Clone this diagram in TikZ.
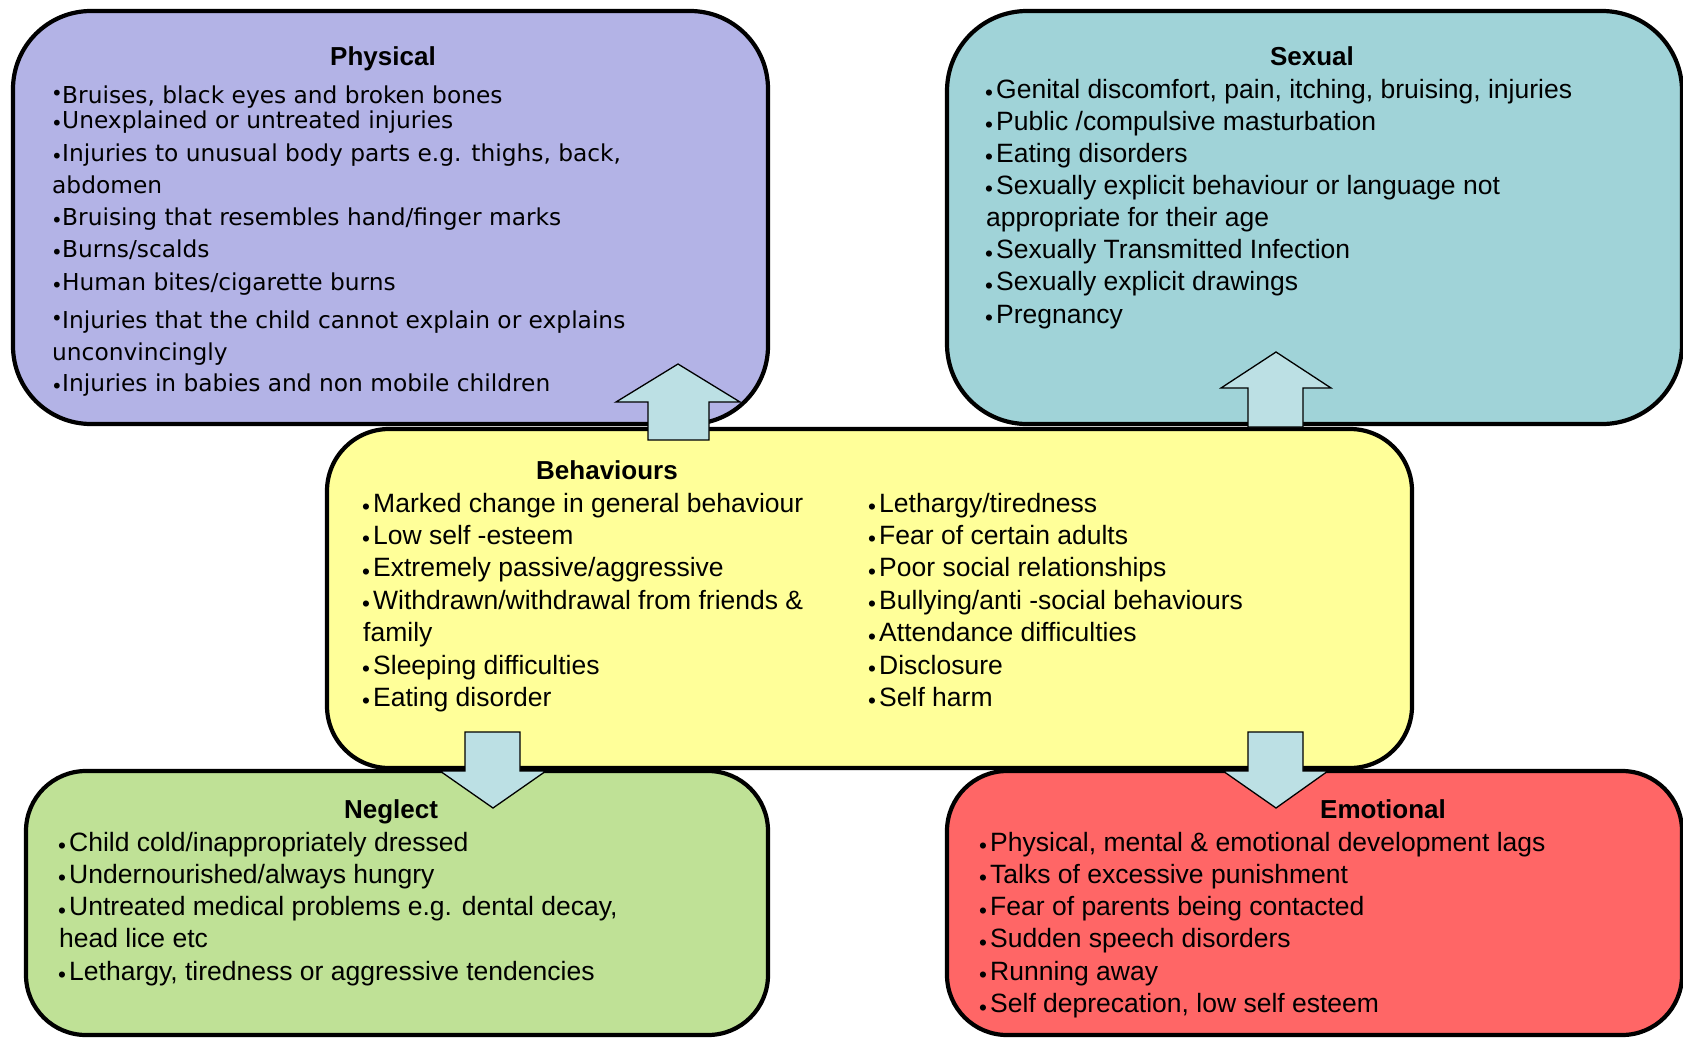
\documentclass[tikz,border=0pt]{standalone}
\usepackage{fontspec}
\usepackage{graphicx}
\usepackage{xcolor}
\setmainfont{Liberation Sans}
\newfontfamily\verdanafont{DejaVu Sans}

\definecolor{physfill}{HTML}{B3B3E6}
\definecolor{sexfill}{HTML}{A0D3D8}
\definecolor{behfill}{HTML}{FFFF99}
\definecolor{negfill}{HTML}{BFE196}
\definecolor{emofill}{HTML}{FF6666}
\definecolor{arrowfill}{HTML}{BCE0E4}

\newcommand{\bul}{\makebox[10pt][l]{\hspace{-1pt}\raisebox{-2.5pt}{\scalebox{0.85}{\textbullet}}}}
\newcommand{\bulhi}{\makebox[10pt][l]{\hspace{-1pt}\raisebox{3pt}{\scalebox{0.85}{\textbullet}}}}

\begin{document}
\begin{tikzpicture}[x=1pt,y=-1pt,
    catbox/.style={draw,line width=4.2pt,inner sep=0pt,rounded corners=#1},
    head/.style={anchor=base,inner sep=0pt,font=\fontsize{26}{30}\selectfont\bfseries},
    item/.style={anchor=base west,inner sep=0pt,font=\fontsize{26.5}{32}\selectfont},
    physitem/.style={anchor=base west,inner sep=0pt,font=\verdanafont\fontsize{23.3}{28}\selectfont},
    blockarrow/.style={draw,fill=arrowfill,line width=1.3pt,line join=miter}]
    \useasboundingbox (0,0) rectangle (1683,1037);

    % boxes
    \node (phys) at (390.5,217.5) [catbox=78pt,fill=physfill,minimum width=755pt,minimum height=413pt] {};
    \node (sex) at (1314.5,217.5) [catbox=80pt,fill=sexfill,minimum width=735pt,minimum height=413pt] {};
    \node (beh) at (869.5,598.5) [catbox=62pt,fill=behfill,minimum width=1085pt,minimum height=339pt] {};

    % arrows up
    \draw[blockarrow] (648,440) -- (648,402) -- (616,402) -- (678,364) -- (740,402) -- (709,402) -- (709,440) -- cycle;
    \draw[blockarrow] (1248,427) -- (1248,388) -- (1221,388) -- (1276,352) -- (1331,388) -- (1303,388) -- (1303,427) -- cycle;

    \node (neg) at (397,903) [catbox=60pt,fill=negfill,minimum width=742pt,minimum height=264pt] {};
    \node (emo) at (1314.5,903) [catbox=60pt,fill=emofill,minimum width=735pt,minimum height=264pt] {};

    % arrows down
    \draw[blockarrow] (465,732) -- (465,771) -- (440,771) -- (493,808) -- (546,771) -- (520,771) -- (520,732) -- cycle;
    \draw[blockarrow] (1248,732) -- (1248,771) -- (1223,771) -- (1276,808) -- (1328,771) -- (1303,771) -- (1303,732) -- cycle;

    % headings
    \node (physhead) at (383,65.5) [head] {Physical};
    \node (sexhead) at (1312,65.5) [head] {Sexual};
    \node (behhead) at (607,479.5) [head] {Behaviours};
    \node (neghead) at (391,818) [head] {Neglect};
    \node (emohead) at (1383,818) [head] {Emotional};

    % physical
    \foreach \y/\t [count=\i] in {103/{\bulhi Bruises, black eyes and broken bones},
        128/{\bul Unexplained or untreated injuries},
        161/{\bul Injuries to unusual body parts e.g. thighs, back,},
        193/{abdomen},
        225/{\bul Bruising that resembles hand/finger marks},
        257/{\bul Burns/scalds},
        290/{\bul Human bites/cigarette burns},
        328/{\bulhi Injuries that the child cannot explain or explains},
        360/{unconvincingly},
        391/{\bul Injuries in babies and non mobile children}}
        \node (phys\i) at (52,\y) [physitem] {\t};

    % sexual
    \foreach \t [count=\i] in {{\bul Genital discomfort, pain, itching, bruising, injuries},
        {\bul Public /compulsive masturbation},
        {\bul Eating disorders},
        {\bul Sexually explicit behaviour or language not},
        {appropriate for their age},
        {\bul Sexually Transmitted Infection},
        {\bul Sexually explicit drawings},
        {\bul Pregnancy}}
        \node (sex\i) at (986,{98+32.15*(\i-1)}) [item] {\t};

    % behaviours
    \foreach \t [count=\i] in {{\bul Marked change in general behaviour},
        {\bul Low self -esteem},
        {\bul Extremely passive/aggressive},
        {\bul Withdrawn/withdrawal from friends \&},
        {family},
        {\bul Sleeping difficulties},
        {\bul Eating disorder}}
        \node (behl\i) at (363,{512+32.4*(\i-1)}) [item] {\t};
    \foreach \t [count=\i] in {{\bul Lethargy/tiredness},
        {\bul Fear of certain adults},
        {\bul Poor social relationships},
        {\bul Bullying/anti -social behaviours},
        {\bul Attendance difficulties},
        {\bul Disclosure},
        {\bul Self harm}}
        \node (behr\i) at (869,{512+32.4*(\i-1)}) [item] {\t};

    % neglect
    \foreach \t [count=\i] in {{\bul Child cold/inappropriately dressed},
        {\bul Undernourished/always hungry},
        {\bul Untreated medical problems e.g. dental decay,},
        {head lice etc},
        {\bul Lethargy, tiredness or aggressive tendencies}}
        \node (neg\i) at (59,{851+32.3*(\i-1)}) [item] {\t};

    % emotional
    \foreach \t [count=\i] in {{\bul Physical, mental \& emotional development lags},
        {\bul Talks of excessive punishment},
        {\bul Fear of parents being contacted},
        {\bul Sudden speech disorders},
        {\bul Running away},
        {\bul Self deprecation, low self esteem}}
        \node (emo\i) at (980,{851+32.3*(\i-1)}) [item] {\t};
\end{tikzpicture}
\end{document}
